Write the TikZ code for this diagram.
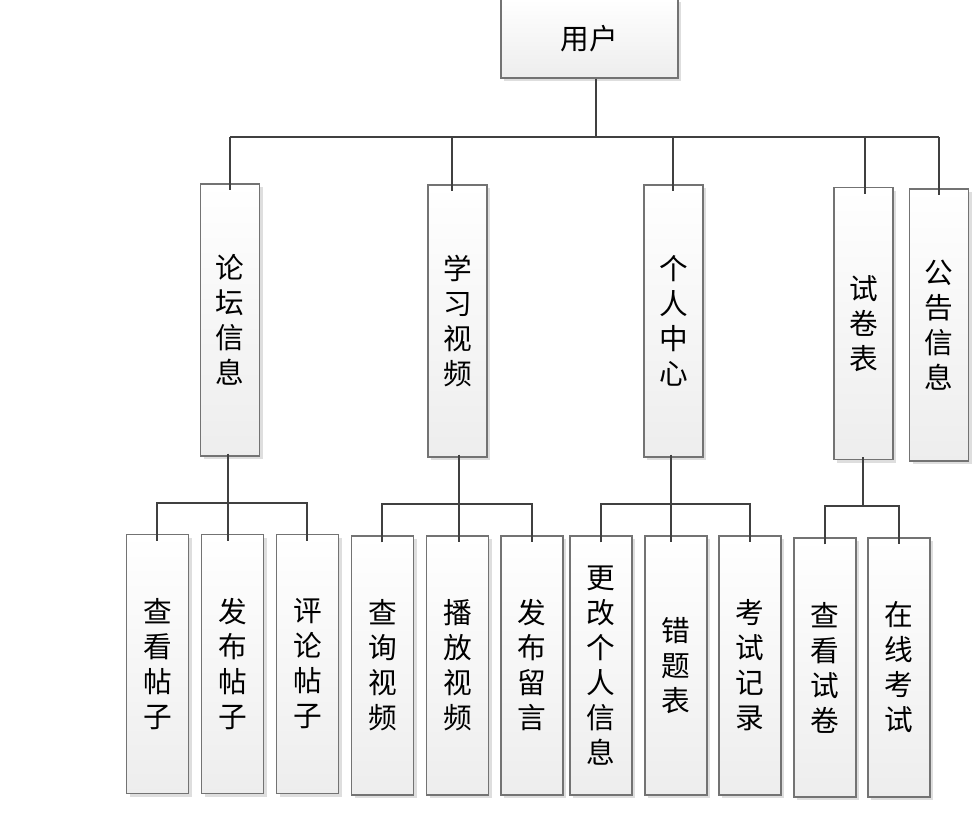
\documentclass[tikz,border=0pt]{standalone}
\usepackage{fontspec}
\newfontfamily\cjk{Noto Sans CJK SC}
\usetikzlibrary{shadows,calc}
\begin{document}
\begin{tikzpicture}[x=0.75pt,y=-0.75pt,
  box/.style={rectangle, draw=black!55, line width=0.9pt, top color=white, bottom color=black!7,
    drop shadow={shadow xshift=2.6pt, shadow yshift=-2.6pt, fill=black!13, opacity=1},
    align=center, inner sep=0pt, font=\cjk\fontsize{21.5}{26.25}\selectfont},
  lvtwo/.style={box, minimum width=44.25pt, minimum height=204pt},
  lvthree/.style={box, minimum width=46.5pt, minimum height=194.25pt},
  conn/.style={draw=black!75, line width=1.6pt}]
\useasboundingbox (0,0) rectangle (974,816);
% root
\node[box, minimum width=132.75pt, minimum height=59.25pt] (root) at (589.5,38.5) {用户};
% level 2
\node[lvtwo] (lt) at (229.75,320) {论\\坛\\信\\息};
\node[lvtwo] (xx) at (457.5,321) {学\\习\\视\\频};
\node[lvtwo] (gr) at (673.5,321) {个\\人\\中\\心};
\node[lvtwo] (sj) at (863.5,323.5) {试\\卷\\表};
\node[lvtwo] (gg) at (939,325) {公\\告\\信\\息};
% level 3
\node[lvthree] (a1) at (157.5,664) {查\\看\\帖\\子};
\node[lvthree] (a2) at (232.5,664) {发\\布\\帖\\子};
\node[lvthree] (a3) at (307.5,664) {评\\论\\帖\\子};
\node[lvthree] (b1) at (382.5,665.5) {查\\询\\视\\频};
\node[lvthree] (b2) at (457.5,665.5) {播\\放\\视\\频};
\node[lvthree] (b3) at (532,665.5) {发\\布\\留\\言};
\node[lvthree] (c1) at (601,665.5) {更\\改\\个\\人\\信\\息};
\node[lvthree] (c2) at (676,665.5) {错\\题\\表};
\node[lvthree] (c3) at (750,665.5) {考\\试\\记\\录};
\node[lvthree] (d1) at (825,667.5) {查\\看\\试\\卷};
\node[lvthree] (d2) at (899,667.5) {在\\线\\考\\试};
% bar coordinates
\coordinate (r0) at (596,137);
\coordinate (p1) at (230,137);
\coordinate (p2) at (452,137);
\coordinate (p3) at (673,137);
\coordinate (p4) at (865,137);
\coordinate (p5) at (939,137);
% root connectors
\draw[conn] (root.south -| r0) -- (r0);
\draw[conn] (p1) -- (p5);
\draw[conn] (p1) -- ($(lt.north -| p1)+(0,7)$);
\draw[conn] (p2) -- ($(xx.north -| p2)+(0,7)$);
\draw[conn] (p3) -- ($(gr.north -| p3)+(0,7)$);
\draw[conn] (p4) -- ($(sj.north -| p4)+(0,7)$);
\draw[conn] (p5) -- ($(gg.north -| p5)+(0,7)$);
% forum
\coordinate (qa) at (228,503);
\coordinate (qa1) at (157,503);
\coordinate (qa3) at (307,503);
\draw[conn] ($(lt.south -| qa)+(0,-3)$) -- (qa);
\draw[conn] ($(a1.north -| qa1)+(0,7)$) -- (qa1) -- (qa3) -- ($(a3.north -| qa3)+(0,7)$);
\draw[conn] (qa) -- ($(a2.north -| qa)+(0,7)$);
% video
\coordinate (qb) at (459,504);
\coordinate (qb1) at (382,504);
\coordinate (qb3) at (532,504);
\draw[conn] ($(xx.south -| qb)+(0,-3)$) -- (qb);
\draw[conn] ($(b1.north -| qb1)+(0,7)$) -- (qb1) -- (qb3) -- ($(b3.north -| qb3)+(0,7)$);
\draw[conn] (qb) -- ($(b2.north -| qb)+(0,7)$);
% personal
\coordinate (qc) at (671,504);
\coordinate (qc1) at (601,504);
\coordinate (qc3) at (750,504);
\draw[conn] ($(gr.south -| qc)+(0,-3)$) -- (qc);
\draw[conn] ($(c1.north -| qc1)+(0,7)$) -- (qc1) -- (qc3) -- ($(c3.north -| qc3)+(0,7)$);
\draw[conn] (qc) -- ($(c2.north -| qc)+(0,7)$);
% exam
\coordinate (qd) at (863,506);
\coordinate (qd1) at (825,506);
\coordinate (qd2) at (899,506);
\draw[conn] ($(sj.south -| qd)+(0,-3)$) -- (qd);
\draw[conn] ($(d1.north -| qd1)+(0,7)$) -- (qd1) -- (qd2) -- ($(d2.north -| qd2)+(0,7)$);
\end{tikzpicture}
\end{document}
